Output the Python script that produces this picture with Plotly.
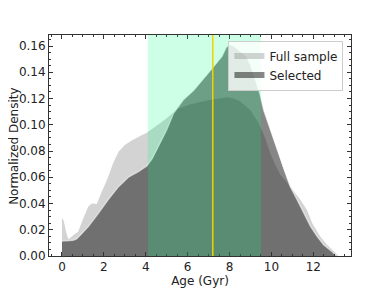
import plotly.graph_objects as go

# Full sample density
age_full = [0, 0.08, 0.2, 0.3, 0.4, 0.55, 0.77, 1.0, 1.25, 1.42, 1.66, 1.9, 2.2, 2.45, 2.7, 3.0,
            3.33, 3.8, 4.05, 4.5, 5.0, 5.5, 6.1, 6.5, 7.1, 7.5, 7.9, 8.2, 8.5, 9.0, 9.4, 9.7,
            9.95, 10.2, 10.43, 10.9, 11.39, 11.7, 11.95, 12.34, 12.66, 13.06, 13.2]
dens_full = [0.029, 0.027, 0.018, 0.013, 0.014, 0.016, 0.0185, 0.028, 0.0376, 0.040, 0.0397, 0.049,
             0.060, 0.071, 0.0795, 0.0846, 0.088, 0.092, 0.094, 0.099, 0.105, 0.112, 0.1155, 0.117,
             0.119, 0.120, 0.121, 0.120, 0.118, 0.111, 0.101, 0.090, 0.078, 0.069, 0.062, 0.053,
             0.0427, 0.035, 0.025, 0.0147, 0.0084, 0.0025, 0.0]

# Selected density
age_sel = [0, 0.3, 0.54, 0.7, 0.94, 1.26, 1.74, 2.2, 2.7, 3.17, 3.65, 4.05, 4.3, 4.53, 5.0, 5.33,
           5.8, 6.28, 6.92, 7.24, 7.64, 7.85, 8.0, 8.2, 8.5, 8.8, 9.0, 9.23, 9.44, 9.63, 9.95,
           10.27, 10.6, 10.9, 11.23, 11.55, 11.87, 12.19, 12.5, 12.9, 13.1]
dens_sel = [0.0114, 0.0116, 0.012, 0.013, 0.0168, 0.0224, 0.0325, 0.0427, 0.0528, 0.060, 0.0643,
            0.0686, 0.074, 0.081, 0.096, 0.1087, 0.119, 0.126, 0.138, 0.144, 0.152, 0.159, 0.161,
            0.160, 0.156, 0.152, 0.1455, 0.134, 0.124, 0.111, 0.096, 0.081, 0.0655, 0.0528,
            0.0427, 0.0325, 0.0224, 0.0147, 0.0084, 0.0033, 0.0]

band_range = [4.1, 9.5]
marker_age = 7.2

fig = go.Figure()
fig.add_trace(go.Scatter(x=age_full, y=dens_full, fill="tozeroy", mode="none",
                         fillcolor="rgba(128,128,128,0.35)", name="Full sample"))
fig.add_trace(go.Scatter(x=age_sel, y=dens_sel, fill="tozeroy", mode="none",
                         fillcolor="rgba(0,0,0,0.47)", name="Selected"))
fig.add_trace(go.Scatter(x=age_sel, y=dens_sel, mode="lines",
                         line=dict(color="rgba(255,255,255,0.55)", width=1.3),
                         showlegend=False, hoverinfo="skip"))

fig.add_shape(type="rect", xref="x", yref="paper", x0=band_range[0], x1=band_range[1],
              y0=0, y1=1, fillcolor="rgb(0,255,127)", opacity=0.2, line_width=0, layer="above")
fig.add_shape(type="line", xref="x", yref="paper", x0=marker_age, x1=marker_age, y0=0, y1=1,
              line=dict(color="#F2D200", width=1.5), layer="above")

axis_common = dict(showline=True, linecolor="#333", linewidth=1, mirror="allticks",
                   ticks="inside", ticklen=4, tickcolor="#333", showgrid=False, zeroline=False,
                   automargin=False,
                   tickfont=dict(family="DejaVu Sans", size=12, color="#222"),
                   title_font=dict(family="DejaVu Sans", size=12, color="#222"))

fig.update_xaxes(range=[-0.62, 13.8], dtick=2, tick0=0,
                 minor=dict(ticks="inside", ticklen=2, dtick=0.5, tickcolor="#333"),
                 title_text="Age (Gyr)", title_standoff=0, **axis_common)
fig.update_yaxes(range=[0, 0.1684], dtick=0.02, tick0=0, tickformat=".2f",
                 minor=dict(ticks="inside", ticklen=2, dtick=0.005, tickcolor="#333"),
                 **axis_common)

fig.add_annotation(text="Normalized Density", xref="paper", yref="paper",
                   x=-0.118, y=0.5, xanchor="center", yanchor="middle", textangle=-90,
                   showarrow=False, font=dict(family="DejaVu Sans", size=12, color="#222"))

# page body has an 8px offset; margins compensate so the plot area lands at 49..351 x 35..256
fig.update_layout(
    width=390, height=293,
    margin=dict(l=41, r=47, t=27, b=45),
    paper_bgcolor="white", plot_bgcolor="white",
    font=dict(family="DejaVu Sans", size=12, color="#222"),
    legend=dict(x=0.975, y=0.975, xanchor="right", yanchor="top",
                bgcolor="rgba(255,255,255,0.8)", bordercolor="#ccc", borderwidth=1,
                font=dict(family="DejaVu Sans", size=12, color="#222"),
                itemwidth=30, tracegroupgap=0),
)

fig.write_html("out.html")
